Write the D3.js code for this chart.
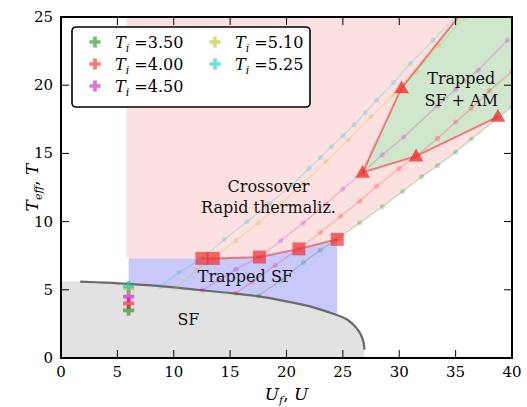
<!DOCTYPE html>
<html><head><meta charset="utf-8">
<script src="https://cdn.jsdelivr.net/npm/d3@7"></script>
<style>body{margin:0;background:#fff}svg{display:block}</style>
</head><body><svg id="c" width="527" height="407"></svg>
<script>
// ---- data ----
const xTicks = [0,5,10,15,20,25,30,35,40];
const yTicks = [0,5,10,15,20,25];
const seriesNames = ["3.50","4.00","4.50","5.10","5.25"];
const seriesColors = ["#008000","#ff0000","#bf00bf","#bfbf00","#00bfbf"];
const TiValues = [3.5,4.0,4.5,5.1,5.25];
const TiU = 6.0;
// T_eff vs U_f curves for each T_i
const greenU = [17.5,19.5,21.5,23,24.5,26.5,28.5,30.3,32,33.4,35,36.4,38.75,40];
const greenT = [4.55,5.7,7.0,7.9,8.7,9.9,11.1,12.2,13.3,14.1,15.1,16.05,17.6,18.4];
const redU = [15.5,17,19,21.1,23,24.8,26.5,28,30,31.5,33.4,35,36.4,38,40];
const redT = [4.75,5.6,6.8,8.0,9.2,10.4,11.5,12.6,13.9,14.8,16.1,17.3,18.3,19.6,21.0];
const magU = [12.5,14,15.5,17.6,19.5,21.5,23.5,25,26.75,28.5,30.4,33.4,35,37,39.6];
const magT = [4.97,5.7,6.5,7.4,8.6,9.9,11.3,12.4,13.6,14.9,16.2,18.5,19.7,21.1,23.3];
const yelU = [10.2,12,13.5,15.5,17.5,19.5,21.5,23.5,25.5,27.5,29.5,30.2,31.5,33.5,35.8];
const yelT = [5.15,6.4,7.3,8.6,9.9,11.3,12.8,14.4,16.0,17.7,19.3,19.8,21.0,22.9,25.0];
const cyaU = [8.8,10.5,12.5,14.5,16.5,18.5,20.5,22,23,24,25,26,27,28,29.5,31,33,35];
const cyaT = [5.25,6.3,7.3,8.7,10.0,11.3,12.7,13.9,14.7,15.5,16.3,17.1,18.0,18.9,20.2,21.6,23.3,25.0];
// SF boundary
const sfU = [1.7,4,6,9,11.7,14.5,17.7,20,22,23.6,24.8,25.5,26.2,26.6,26.85,26.9];
const sfT = [5.6,5.52,5.43,5.25,5.03,4.8,4.5,4.15,3.8,3.4,3.05,2.75,2.2,1.7,1.1,0.6];
// thermalization (squares), cyan -> green
const sqU = [12.5,13.5,17.6,21.1,24.5];
const sqT = [7.3,7.3,7.4,8.0,8.7];
// AM onset (triangles), green -> cyan (last one off-plot)
const triU = [38.75,31.5,26.75,30.2,36.5];
const triT = [17.7,14.8,13.6,19.8,26.3];
const pinkLeftU = 5.8;
const blueLeftU = 6.0;

// ---- layout ----
const L=61,R=512,T=17,B=358;
const x = d3.scaleLinear().domain([0,40]).range([L,R]);
const y = d3.scaleLinear().domain([0,25]).range([B,T]);
const svg = d3.select("#c");
svg.append("defs").append("clipPath").attr("id","clip")
  .append("rect").attr("x",L).attr("y",T).attr("width",R-L).attr("height",B-T);
const g = svg.append("g").attr("clip-path","url(#clip)");
const zip = (a,b)=>a.map((v,i)=>[v,b[i]]);
const lin = d3.line().x(d=>x(d[0])).y(d=>y(d[1]));
const series = [zip(greenU,greenT),zip(redU,redT),zip(magU,magT),zip(yelU,yelT),zip(cyaU,cyaT)];
const sq = zip(sqU,sqT), tri = zip(triU,triT);
const grn = series[0];
const gLast = grn[grn.length-1], gPrev = grn[grn.length-2];
const gSlope = (gLast[1]-gPrev[1])/(gLast[0]-gPrev[0]);
const gExt = [45, gLast[1]+gSlope*(45-gLast[0])];

// pink crossover region
const pinkPts = [[pinkLeftU,30],[pinkLeftU,sqT[0]]].concat(sq)
  .concat(grn.filter(p=>p[0]>sqU[4])).concat([gExt,[45,30]]);
g.append("path").attr("d",lin(pinkPts)+"Z").attr("fill","#fde1e1");
// blue trapped SF region
const bluePts = [[blueLeftU,0],[blueLeftU,sqT[0]]].concat(sq).concat([[sqU[4],0]]);
g.append("path").attr("d",lin(bluePts)+"Z").attr("fill","#c8c8fb");
// green trapped SF + AM region
const greenPts = tri.concat([[45,30],gExt]);
g.append("path").attr("d",lin(greenPts)+"Z").attr("fill","#d0e7cd");
// gray SF region
const sfPts = zip(sfU,sfT);
const sfLine = d3.line().x(d=>x(d[0])).y(d=>y(d[1])).curve(d3.curveCatmullRom);
const sfPath = sfLine(sfPts);
g.append("path").attr("d",`M${x(0)},${y(0)}L${x(0)},${y(sfT[0])}L`+sfPath.slice(1)+`L${x(sfU[sfU.length-1])},${y(0)}Z`)
  .attr("fill","#e2e2e2");
g.append("path").attr("d",sfPath).attr("fill","none").attr("stroke","#6a6a6a").attr("stroke-width",2.2);

// T_i lines
series.forEach((s,i)=>{
  g.append("path").attr("d",lin(s)).attr("fill","none").attr("stroke",seriesColors[i])
    .attr("stroke-opacity",0.2).attr("stroke-width",1.5);
  g.selectAll(null).data(s).enter().append("circle")
    .attr("cx",d=>x(d[0])).attr("cy",d=>y(d[1])).attr("r",2.6)
    .attr("fill",seriesColors[i]).attr("fill-opacity",0.2);
});
// squares line
g.append("path").attr("d",lin(sq)).attr("fill","none").attr("stroke","#ee3333").attr("stroke-opacity",0.6).attr("stroke-width",2);
g.selectAll(null).data(sq).enter().append("rect")
  .attr("x",d=>x(d[0])-6.5).attr("y",d=>y(d[1])-6.5).attr("width",13).attr("height",13)
  .attr("fill","#ee3333").attr("fill-opacity",0.72);
// triangles line
g.append("path").attr("d",lin(tri)).attr("fill","none").attr("stroke","#ee3333").attr("stroke-opacity",0.6).attr("stroke-width",2);
const triSym = d3.symbol().type(d3.symbolTriangle).size(95);
g.selectAll(null).data(tri).enter().append("path")
  .attr("d",triSym).attr("transform",d=>`translate(${x(d[0])},${y(d[1])+1})`)
  .attr("fill","#ee3333").attr("fill-opacity",0.8);
// initial T_i crosses
const cross = d3.symbol().type(d3.symbolCross).size(70);
TiValues.forEach((t,i)=>{
  g.append("path").attr("d",cross).attr("transform",`translate(${x(TiU)},${y(t)})`)
    .attr("fill",seriesColors[i]).attr("fill-opacity",0.55);
});

// region labels
const lab = (txt,u,t)=>svg.append("text").attr("x",x(u)).attr("y",y(t)).attr("text-anchor","middle")
  .attr("font-family","DejaVu Serif").attr("font-size",16).attr("fill","#111").text(txt);
lab("Crossover",18.4,12.2);
lab("Rapid thermaliz.",18.4,10.6);
lab("Trapped SF",16.35,5.6);
lab("SF",11.3,2.4);
lab("Trapped",35.5,20.1);
lab("SF + AM",35.5,18.5);

// axes
const ax = svg.append("g").attr("font-family","DejaVu Serif").attr("font-size",15);
xTicks.forEach(v=>{
  ax.append("line").attr("x1",x(v)).attr("x2",x(v)).attr("y1",B).attr("y2",B-8).attr("stroke","#000");
  ax.append("line").attr("x1",x(v)).attr("x2",x(v)).attr("y1",T).attr("y2",T+8).attr("stroke","#000");
  ax.append("text").attr("x",x(v)).attr("y",B+19).attr("text-anchor","middle").text(v);
});
yTicks.forEach(v=>{
  ax.append("line").attr("x1",L).attr("x2",L+8).attr("y1",y(v)).attr("y2",y(v)).attr("stroke","#000");
  ax.append("line").attr("x1",R).attr("x2",R-8).attr("y1",y(v)).attr("y2",y(v)).attr("stroke","#000");
  ax.append("text").attr("x",L-8).attr("y",y(v)+5).attr("text-anchor","end").text(v);
});
svg.append("rect").attr("x",L).attr("y",T).attr("width",R-L).attr("height",B-T)
  .attr("fill","none").attr("stroke","#000").attr("stroke-width",2);
// axis labels
const xl = svg.append("text").attr("x",(L+R)/2).attr("y",400).attr("text-anchor","middle")
  .attr("font-family","DejaVu Serif").attr("font-size",17);
xl.append("tspan").attr("font-style","italic").text("U");
xl.append("tspan").attr("font-style","italic").attr("font-size",11).attr("dy",4).text("f");
xl.append("tspan").attr("dy",-4).text(", ");
xl.append("tspan").attr("font-style","italic").text("U");
const yl = svg.append("text").attr("transform",`translate(38,${(T+B)/2}) rotate(-90)`).attr("text-anchor","middle")
  .attr("font-family","DejaVu Serif").attr("font-size",17);
yl.append("tspan").attr("font-style","italic").text("T");
yl.append("tspan").attr("font-style","italic").attr("font-size",11).attr("dy",4).text("eff");
yl.append("tspan").attr("dy",-4).text(", ");
yl.append("tspan").attr("font-style","italic").text("T");

// legend
const lg = svg.append("g");
lg.append("rect").attr("x",72).attr("y",27).attr("width",238).attr("height",80).attr("rx",4)
  .attr("fill","#fff").attr("stroke","#000").attr("stroke-width",1.6);
const legPos = [[95,42],[95,64],[95,86],[215,42],[215,64]];
seriesNames.forEach((n,i)=>{
  const [lx,ly]=legPos[i];
  lg.append("path").attr("d",cross).attr("transform",`translate(${lx},${ly})`)
    .attr("fill",seriesColors[i]).attr("fill-opacity",0.55);
  const t = lg.append("text").attr("x",lx+20).attr("y",ly+6).attr("font-family","DejaVu Serif").attr("font-size",16);
  t.append("tspan").attr("font-style","italic").text("T");
  t.append("tspan").attr("font-style","italic").attr("font-size",11).attr("dy",4).text("i");
  t.append("tspan").attr("dy",-4).text(" =" + n);
});
</script></body></html>
